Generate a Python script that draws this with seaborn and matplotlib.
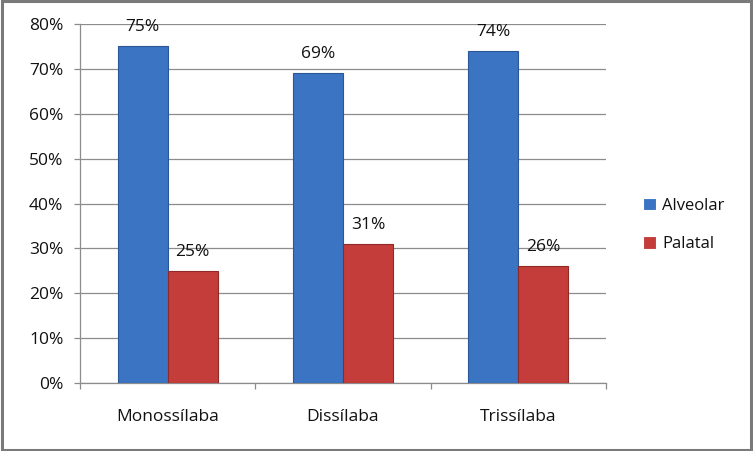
import matplotlib
matplotlib.use("Agg")
import matplotlib.pyplot as plt
import seaborn as sns
import pandas as pd
from matplotlib.patches import Rectangle
from matplotlib.ticker import FixedLocator, PercentFormatter

categories = ["Monossílaba", "Dissílaba", "Trissílaba"]
series_names = ["Alveolar", "Palatal"]
alveolar = [75, 69, 74]
palatal = [25, 31, 26]
yticks = [0, 10, 20, 30, 40, 50, 60, 70, 80]

rows = []
for c, a, p in zip(categories, alveolar, palatal):
    rows.append({"cat": c, "serie": series_names[0], "val": a})
    rows.append({"cat": c, "serie": series_names[1], "val": p})
df = pd.DataFrame(rows)

sns.set_theme(style="white")
plt.rcParams["font.family"] = ["Open Sans", "DejaVu Sans"]

fig = plt.figure(figsize=(7.53, 4.51), dpi=100)
ax = fig.add_axes([80/753, 1-383/451, (606-80)/753, (383-24)/451])

palette = {"Alveolar": "#3b74c2", "Palatal": "#c43d3a"}
edges = {"Alveolar": "#2a5796", "Palatal": "#8f2a28"}
sns.barplot(data=df, x="cat", y="val", hue="serie", order=categories,
            hue_order=series_names, palette=palette, width=100/175,
            gap=0, ax=ax, legend=True, saturation=1, linewidth=0.8, zorder=3)

txt = "#111111"
for cont, name in zip(ax.containers, series_names):
    for b in cont:
        b.set_edgecolor(edges[name])
    labels = [f"{int(round(v))}%" for v in cont.datavalues]
    ax.bar_label(cont, labels=labels, padding=8, fontsize=12.5, color=txt)

ax.set_ylim(0, 80)
ax.set_xlim(-0.5, 2.5)
ax.yaxis.set_major_locator(FixedLocator(yticks))
ax.yaxis.set_major_formatter(PercentFormatter(decimals=0))
ax.grid(axis="y", color="#8c8c8c", linewidth=0.9, zorder=0)
ax.set_axisbelow(True)
ax.set_xlabel("")
ax.set_ylabel("")
for s in ["top", "right"]:
    ax.spines[s].set_visible(False)
for s in ["left", "bottom"]:
    ax.spines[s].set_color("#8c8c8c")
    ax.spines[s].set_linewidth(0.9)
ax.tick_params(axis="y", which="major", length=4, width=0.9, color="#8c8c8c",
               pad=8, labelsize=12.5, labelcolor=txt, left=True)
ax.tick_params(axis="x", which="major", length=0, pad=19, labelsize=12.5,
               labelcolor=txt)
ax.xaxis.set_minor_locator(FixedLocator([-0.5, 0.5, 1.5, 2.5]))
ax.tick_params(axis="x", which="minor", length=4, width=0.9, color="#8c8c8c",
               bottom=True)

leg = ax.legend(loc="center left", bbox_to_anchor=(628/753, 1-225/451),
                bbox_transform=fig.transFigure, frameon=False, fontsize=12,
                handlelength=0.8, handleheight=0.8, handletextpad=0.35,
                labelspacing=1.35, labelcolor=txt)

fig.patches.append(Rectangle((0.002, 0.003), 0.995, 0.994, transform=fig.transFigure,
                             fill=False, edgecolor="#7a7a7a", linewidth=2.2))

fig.savefig("out.png", dpi=100)
